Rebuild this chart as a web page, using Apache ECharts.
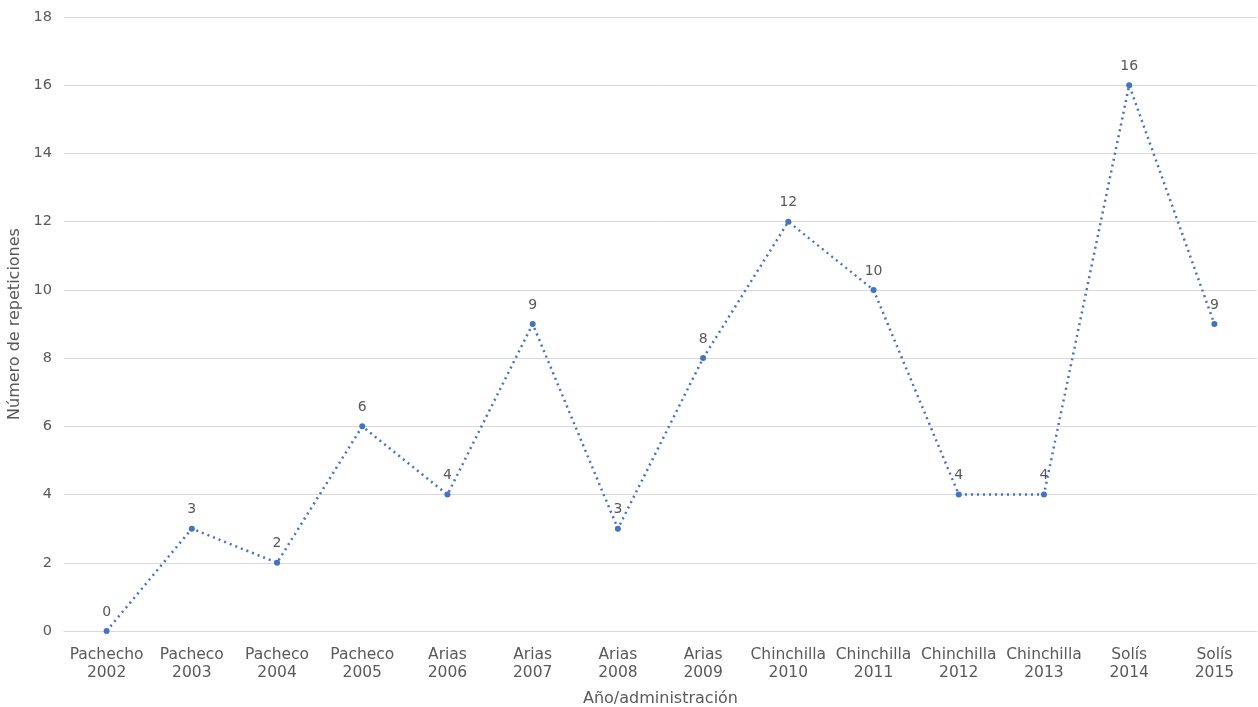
<!DOCTYPE html>
<html><head><meta charset="utf-8">
<script src="https://cdn.jsdelivr.net/npm/echarts@6/dist/echarts.min.js"></script>
<style>html,body{margin:0;padding:0;background:#fff}#c{width:1258px;height:707px}</style>
</head><body><div id="c"></div>
<script>
const categories = ["Pachecho\n2002","Pacheco\n2003","Pacheco\n2004","Pacheco\n2005","Arias\n2006","Arias\n2007","Arias\n2008","Arias\n2009","Chinchilla\n2010","Chinchilla\n2011","Chinchilla\n2012","Chinchilla\n2013","Solís\n2014","Solís\n2015"];
const values = [0,3,2,6,4,9,3,8,12,10,4,4,16,9];
const yTicks = {min:0, max:18, interval:2};
const F = "DejaVu Sans, Verdana, sans-serif";
const chart = echarts.init(document.getElementById('c'));
chart.setOption({
  animation:false,
  grid:{left:64,right:1,top:17,bottom:76,containLabel:false,outerBoundsMode:'none'},
  xAxis:{type:'category',data:categories,boundaryGap:true,
    name:'Año/administración',nameLocation:'middle',nameGap:60,
    nameTextStyle:{color:'#595959',fontFamily:F,fontSize:16},
    axisLine:{show:true,lineStyle:{color:'#d9d9d9'}},axisTick:{show:false},
    axisLabel:{color:'#595959',fontFamily:F,fontSize:15.5,lineHeight:18,margin:15,interval:0}},
  yAxis:{type:'value',min:yTicks.min,max:yTicks.max,interval:yTicks.interval,
    name:'Número de repeticiones',nameLocation:'middle',nameGap:37,
    nameTextStyle:{color:'#595959',fontFamily:F,fontSize:16},
    axisLine:{show:false},axisTick:{show:false},
    axisLabel:{color:'#595959',fontFamily:F,fontSize:14.5,margin:12},
    splitLine:{lineStyle:{color:'#d9d9d9'}}},
  series:[{type:'line',data:values,symbol:'circle',symbolSize:6,
    itemStyle:{color:'#4472C4'},
    lineStyle:{color:'#4472C4',width:2.5,type:[2,4]},
    label:{show:true,position:'top',distance:9,color:'#595959',fontFamily:F,fontSize:14}}]
});
</script></body></html>
